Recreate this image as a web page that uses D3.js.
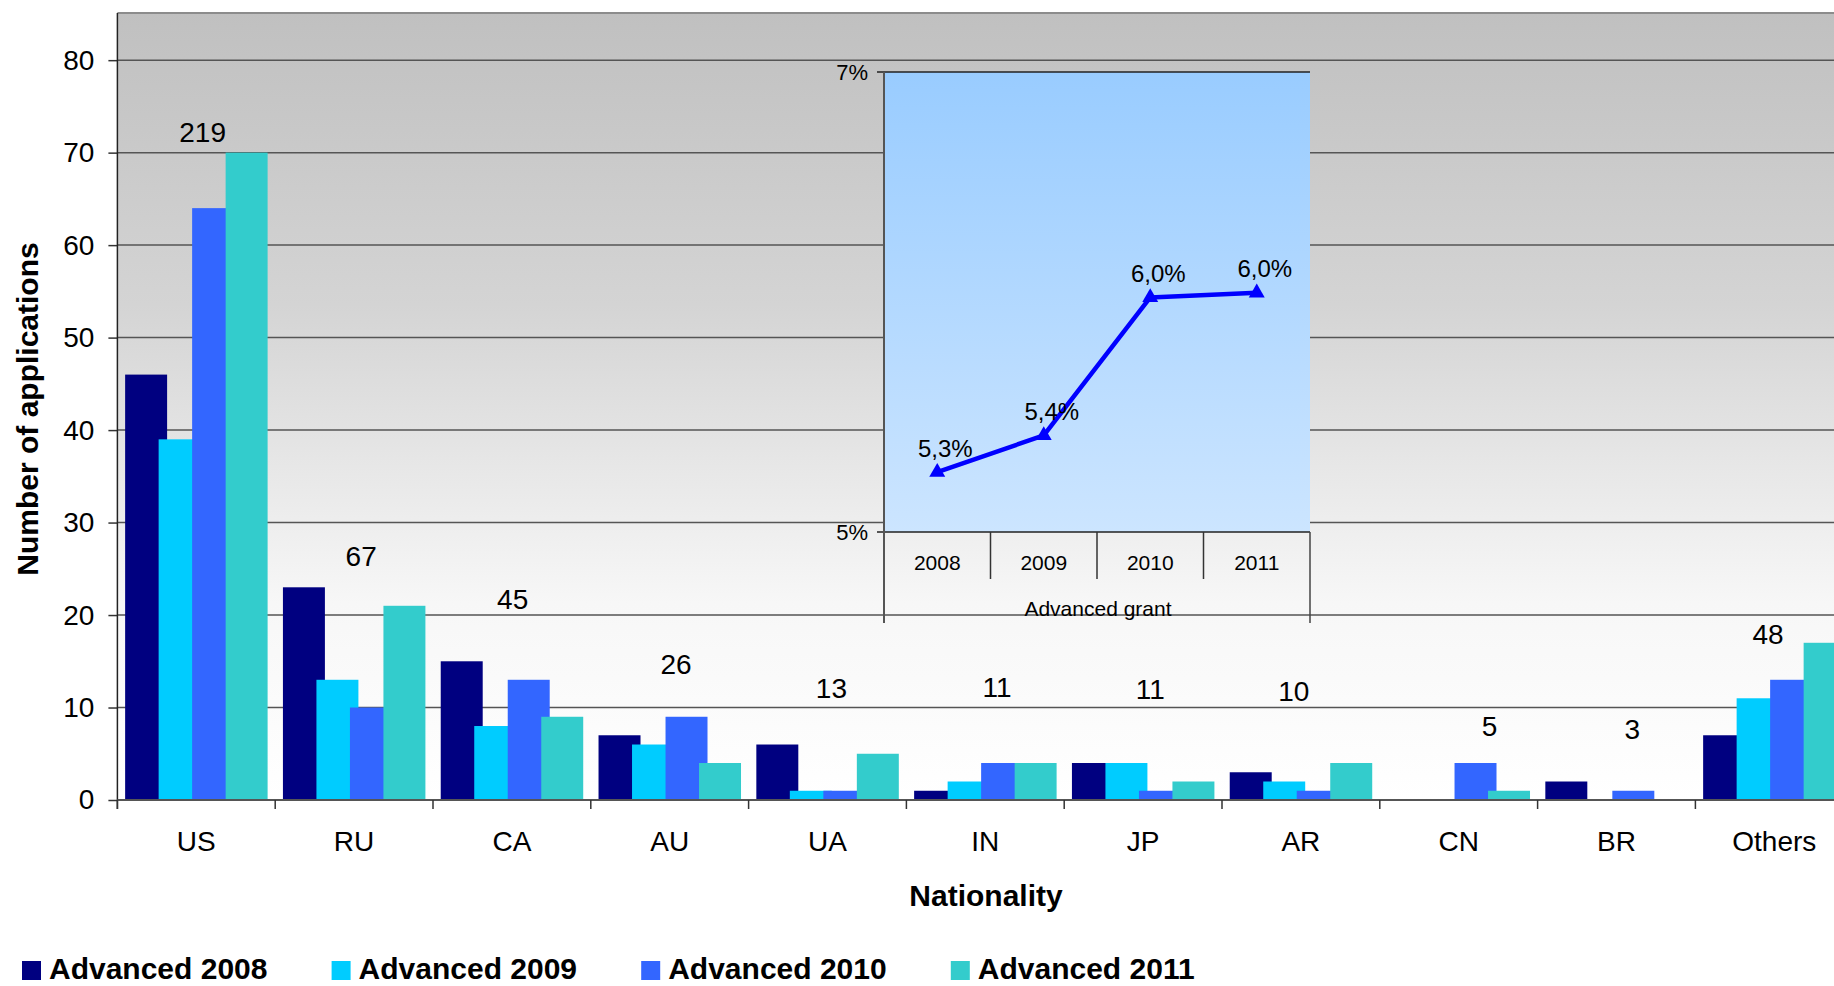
<!DOCTYPE html>
<html>
<head>
<meta charset="utf-8">
<script src="https://cdn.jsdelivr.net/npm/d3@7/dist/d3.min.js"></script>
<style>
  html, body { margin: 0; padding: 0; background: #ffffff; }
  svg { display: block; font-family: "Liberation Sans", Arial, sans-serif; }
</style>
</head>
<body>
<svg id="chart" width="1834" height="986"></svg>
<script>
// ---------------- DATA ----------------
const categories = ["US", "RU", "CA", "AU", "UA", "IN", "JP", "AR", "CN", "BR", "Others"];
const seriesNames = ["Advanced 2008", "Advanced 2009", "Advanced 2010", "Advanced 2011"];
const advanced2008 = [46, 23, 15, 7, 6, 1, 4, 3, 0, 2, 7];
const advanced2009 = [39, 13, 8, 6, 1, 2, 4, 2, 0, 0, 11];
const advanced2010 = [64, 10, 13, 9, 1, 4, 1, 1, 4, 1, 13];
const advanced2011 = [70, 21, 9, 4, 5, 4, 2, 4, 1, 0, 17];
const yTickValues = [0, 10, 20, 30, 40, 50, 60, 70, 80];
// level (in applications) where each total label sits, and its shift across the band
const totalLabelLevel = [72.2, 26.3, 21.7, 14.7, 12.1, 12.2, 12.0, 11.7, 7.9, 7.6, 17.9];
const totalLabelShift = [0.04, 0.045, 0.005, 0.04, 0.025, 0.075, 0.045, -0.045, 0.195, 0.10, -0.04];

const insetYears = ["2008", "2009", "2010", "2011"];
const insetShare = [0.0526, 0.0542, 0.0602, 0.0604];
const insetTickValues = [0.05, 0.07];
const insetGroupLabel = "Advanced grant";

const xTitle = "Nationality";
const yTitle = "Number of applications";

// ---------------- STYLE / LAYOUT ----------------
const colors = ["#000080", "#00CCFF", "#3366FF", "#33CCCC"];
const W = 1834, H = 986;
const plot = { left: 117.4, top: 13, bottom: 800, band: 157.8 };
plot.right = plot.left + categories.length * plot.band;
const inset = { left: 884, right: 1310, top: 72, bottom: 532 };

const svg = d3.select("#chart");
const defs = svg.append("defs");

const bg = defs.append("linearGradient").attr("id", "bgGrad")
  .attr("x1", 0).attr("y1", 0).attr("x2", 0).attr("y2", 1);
bg.append("stop").attr("offset", "0%").attr("stop-color", "#c0c0c0");
bg.append("stop").attr("offset", "37%").attr("stop-color", "#d4d4d4");
bg.append("stop").attr("offset", "75%").attr("stop-color", "#f7f7f7");
bg.append("stop").attr("offset", "100%").attr("stop-color", "#ffffff");

const ig = defs.append("linearGradient").attr("id", "insetGrad")
  .attr("x1", 0).attr("y1", 0).attr("x2", 0).attr("y2", 1);
ig.append("stop").attr("offset", "0%").attr("stop-color", "#99CCFF");
ig.append("stop").attr("offset", "100%").attr("stop-color", "#CCE5FF");

// ---------------- SCALES ----------------
const x = d3.scaleBand().domain(categories).range([plot.left, plot.right]).paddingInner(0).paddingOuter(0);
const y = d3.scaleLinear().domain([0, 85.1]).range([plot.bottom, plot.top]);
const bw = x.bandwidth();
const inner = d3.scaleLinear().domain([0, 1]).range([0.049 * bw, (0.049 + 0.2123) * bw]);
const barW = 0.266 * bw;

// ---------------- BACKGROUND ----------------
svg.append("rect").attr("x", plot.left).attr("y", plot.top)
  .attr("width", plot.right - plot.left).attr("height", plot.bottom - plot.top)
  .attr("fill", "url(#bgGrad)");
svg.append("line").attr("x1", plot.left).attr("x2", plot.right)
  .attr("y1", plot.top).attr("y2", plot.top)
  .attr("stroke", "#8c8c8c").attr("stroke-width", 2);

// gridlines
svg.append("g").selectAll("line").data(yTickValues.filter(d => d > 0)).join("line")
  .attr("x1", plot.left).attr("x2", plot.right)
  .attr("y1", d => y(d)).attr("y2", d => y(d))
  .attr("stroke", "#555").attr("stroke-width", 1.5);

// ---------------- BARS ----------------
const allSeries = [advanced2008, advanced2009, advanced2010, advanced2011];
allSeries.forEach((vals, si) => {
  svg.append("g").selectAll("rect").data(vals.map((v, i) => ({ c: categories[i], v })))
    .join("rect")
    .attr("x", d => x(d.c) + inner(si))
    .attr("width", barW)
    .attr("y", d => y(d.v))
    .attr("height", d => y(0) - y(d.v))
    .attr("fill", colors[si]);
});

// ---------------- AXES ----------------
const yAxis = d3.axisLeft(y).tickValues(yTickValues).tickSize(9).tickPadding(14);
const yG = svg.append("g").attr("transform", `translate(${plot.left},0)`).call(yAxis);
yG.select(".domain").remove();
yG.selectAll(".tick line").attr("stroke", "#333").attr("stroke-width", 1.5);
yG.selectAll(".tick text").attr("font-size", 28).attr("fill", "#000")
  .attr("font-family", "Liberation Sans, Arial, sans-serif");
svg.append("line").attr("x1", plot.left).attr("x2", plot.left)
  .attr("y1", plot.top).attr("y2", plot.bottom + 9)
  .attr("stroke", "#222").attr("stroke-width", 1.5);

// x axis baseline
svg.append("line").attr("x1", plot.left).attr("x2", plot.right)
  .attr("y1", y(0)).attr("y2", y(0)).attr("stroke", "#555").attr("stroke-width", 2);

// category boundary ticks
svg.append("g").selectAll("line").data(categories).join("line")
  .attr("x1", d => x(d)).attr("x2", d => x(d))
  .attr("y1", y(0)).attr("y2", y(0) + 9)
  .attr("stroke", "#333").attr("stroke-width", 1.5);

// category labels
svg.append("g").selectAll("text").data(categories).join("text")
  .attr("x", d => x(d) + bw / 2).attr("y", 851)
  .attr("text-anchor", "middle").attr("font-size", 28).attr("fill", "#000")
  .text(d => d);

// axis titles
svg.append("text").attr("x", 986).attr("y", 906).attr("text-anchor", "middle")
  .attr("font-size", 30).attr("font-weight", "bold").text(xTitle);
svg.append("text").attr("transform", "translate(38,409) rotate(-90)")
  .attr("text-anchor", "middle").attr("font-size", 30).attr("font-weight", "bold").text(yTitle);

// ---------------- TOTAL LABELS ----------------
const totals = categories.map((c, i) => d3.sum(allSeries, s => s[i]));
svg.append("g").selectAll("text").data(categories).join("text")
  .attr("x", (d, i) => x(d) + bw / 2 + totalLabelShift[i] * bw)
  .attr("y", (d, i) => y(totalLabelLevel[i]))
  .attr("dominant-baseline", "central")
  .attr("text-anchor", "middle").attr("font-size", 28).attr("fill", "#000")
  .text((d, i) => totals[i]);

// ---------------- LEGEND ----------------
const legend = svg.append("g").selectAll("g").data(seriesNames).join("g")
  .attr("transform", (d, i) => `translate(${22 + i * 309.6},0)`);
legend.append("rect").attr("x", 0).attr("y", 961).attr("width", 19).attr("height", 19)
  .attr("fill", (d, i) => colors[i]);
legend.append("text").attr("x", 27).attr("y", 979)
  .attr("font-size", 30).attr("font-weight", "bold").text(d => d);

// ---------------- INSET LINE CHART ----------------
const ix = d3.scaleBand().domain(insetYears).range([inset.left, inset.right]).paddingInner(0).paddingOuter(0);
const iy = d3.scaleLinear().domain([0.05, 0.07]).range([inset.bottom, inset.top]);
const loc = d3.formatLocale({ decimal: ",", thousands: ".", grouping: [3], currency: ["", "€"] });
const pctLabel = loc.format(".1%");
const pctTick = loc.format(".0%");

const ins = svg.append("g");
ins.append("rect").attr("x", inset.left).attr("y", inset.top)
  .attr("width", inset.right - inset.left).attr("height", inset.bottom - inset.top)
  .attr("fill", "url(#insetGrad)");
// top gridline / ticks
ins.selectAll("line.itk").data(insetTickValues).join("line").attr("class", "itk")
  .attr("x1", inset.left - 7).attr("x2", d => d === 0.07 ? inset.right : inset.left)
  .attr("y1", d => iy(d)).attr("y2", d => iy(d))
  .attr("stroke", "#222").attr("stroke-width", 1.5);
ins.selectAll("text.itl").data(insetTickValues).join("text").attr("class", "itl")
  .attr("x", inset.left - 16).attr("y", d => iy(d))
  .attr("dominant-baseline", "central").attr("text-anchor", "end")
  .attr("font-size", 22).text(d => pctTick(d));
// bottom axis
ins.append("line").attr("x1", inset.left).attr("x2", inset.right)
  .attr("y1", inset.bottom).attr("y2", inset.bottom).attr("stroke", "#222").attr("stroke-width", 1.5);
// left axis (extends through multi-level category area)
ins.append("line").attr("x1", inset.left).attr("x2", inset.left)
  .attr("y1", inset.top).attr("y2", inset.bottom + 91).attr("stroke", "#555").attr("stroke-width", 2);
ins.append("line").attr("x1", inset.right).attr("x2", inset.right)
  .attr("y1", inset.bottom).attr("y2", inset.bottom + 91).attr("stroke", "#444").attr("stroke-width", 1.5);
// year separators
ins.selectAll("line.sep").data(insetYears.slice(1)).join("line").attr("class", "sep")
  .attr("x1", d => ix(d)).attr("x2", d => ix(d))
  .attr("y1", inset.bottom).attr("y2", inset.bottom + 47)
  .attr("stroke", "#333").attr("stroke-width", 1.5);
ins.selectAll("text.yr").data(insetYears).join("text").attr("class", "yr")
  .attr("x", d => ix(d) + ix.bandwidth() / 2).attr("y", inset.bottom + 30)
  .attr("dominant-baseline", "central").attr("text-anchor", "middle")
  .attr("font-size", 21).text(d => d);
ins.append("text").attr("x", (inset.left + inset.right) / 2 + 1).attr("y", inset.bottom + 76)
  .attr("dominant-baseline", "central").attr("text-anchor", "middle")
  .attr("font-size", 21).text(insetGroupLabel);

const pts = insetYears.map((yr, i) => ({ yr, v: insetShare[i] }));
const line = d3.line().x(d => ix(d.yr) + ix.bandwidth() / 2).y(d => iy(d.v));
ins.append("path").datum(pts).attr("d", line)
  .attr("fill", "none").attr("stroke", "#0000FF").attr("stroke-width", 4.5).attr("stroke-linejoin", "round");
ins.selectAll("path.mk").data(pts).join("path").attr("class", "mk")
  .attr("transform", d => `translate(${ix(d.yr) + ix.bandwidth() / 2},${iy(d.v)})`)
  .attr("d", d3.symbol(d3.symbolTriangle, 110)).attr("fill", "#0000FF");
ins.selectAll("text.pl").data(pts).join("text").attr("class", "pl")
  .attr("x", d => ix(d.yr) + ix.bandwidth() / 2 + 8).attr("y", d => iy(d.v) - 24)
  .attr("dominant-baseline", "central").attr("text-anchor", "middle")
  .attr("font-size", 24).text(d => pctLabel(d.v));
</script>
</body>
</html>
